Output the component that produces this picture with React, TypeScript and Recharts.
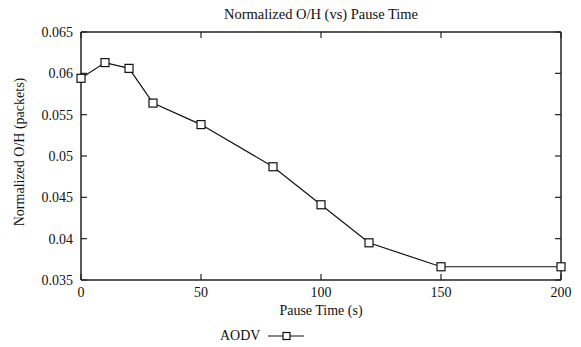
import { LineChart, Line, XAxis, YAxis, Legend } from 'recharts';

const pauseTimes = [0, 10, 20, 30, 50, 80, 100, 120, 150, 200];
const aodvOH = [0.0594, 0.0613, 0.0606, 0.0564, 0.0538, 0.0487, 0.0441, 0.0395, 0.0366, 0.0366];
const xTicks = [0, 50, 100, 150, 200];
const yTicks = [0.035, 0.04, 0.045, 0.05, 0.055, 0.06, 0.065];

const data = pauseTimes.map((t, i) => ({ t, aodv: aodvOH[i] }));

const FONT = '"Liberation Serif", "Times New Roman", Times, serif';
const INK = '#222';
const TICK_IN = 6;

const fmtY = (v: number) => String(+v.toFixed(3));

const BottomTick = (props: any) => {
  const { x, y, payload } = props;
  const axisY = y - 6;
  return (
    <g>
      <line x1={x} y1={axisY} x2={x} y2={axisY - TICK_IN} stroke={INK} strokeWidth={1.2} />
      <text x={x} y={y} dy="0.75em" textAnchor="middle" style={{ fontFamily: FONT }} fontSize={14} fill="#111">
        {payload.value}
      </text>
    </g>
  );
};

const LeftTick = (props: any) => {
  const { x, y, payload } = props;
  const axisX = x + 8;
  return (
    <g>
      <line x1={axisX} y1={y} x2={axisX + TICK_IN} y2={y} stroke={INK} strokeWidth={1.2} />
      <text x={x} y={y} dy="0.35em" textAnchor="end" style={{ fontFamily: FONT }} fontSize={14} fill="#111">
        {fmtY(payload.value)}
      </text>
    </g>
  );
};

const TopTick = (props: any) => {
  const { x, y } = props;
  const axisY = y + 8;
  return <line x1={x} y1={axisY} x2={x} y2={axisY + TICK_IN} stroke={INK} strokeWidth={1.2} />;
};

const RightTick = (props: any) => {
  const { x, y } = props;
  const axisX = x - 8;
  return <line x1={axisX} y1={y} x2={axisX - TICK_IN} y2={y} stroke={INK} strokeWidth={1.2} />;
};

const SquareDot = (props: any) => {
  const { cx, cy, index } = props;
  if (cx == null || cy == null) return null;
  return <rect key={index} x={cx - 4} y={cy - 4} width={8} height={8} fill="#fff" stroke="#111" strokeWidth={1.2} />;
};

// rotated y-axis title, sits a little above the plot's middle like the original
const YTitle = (props: any) => {
  const { viewBox } = props;
  const cy = viewBox.y + viewBox.height / 2 - 4;
  return (
    <text
      x={19}
      y={cy}
      transform={`rotate(-90, 19, ${cy})`}
      textAnchor="middle"
      dominantBaseline="central"
      style={{ fontFamily: FONT }}
      fontSize={14}
      fill="#111"
    >
      Normalized O/H (packets)
    </text>
  );
};

const LegendBox = () => (
  <div style={{ position: 'relative', height: 22, fontFamily: FONT, fontSize: 14, color: '#111' }}>
    <span style={{ position: 'absolute', left: 220, top: 2, lineHeight: '18px' }}>AODV</span>
    <svg width={40} height={22} style={{ position: 'absolute', left: 266, top: 0 }}>
      <line x1={2} y1={11} x2={38} y2={11} stroke="#111" strokeWidth={1.2} />
      <rect x={17} y={7.5} width={7} height={7} fill="#fff" stroke="#111" strokeWidth={1.2} />
    </svg>
  </div>
);

export default function App() {
  return (
    <div style={{ position: 'fixed', left: 0, top: 0, width: 581, height: 347, background: '#fff', fontFamily: FONT }}>
      <div
        style={{
          position: 'absolute',
          top: 5,
          left: 81,
          width: 480,
          textAlign: 'center',
          fontSize: 14.5,
          lineHeight: '18px',
          color: '#111',
        }}
      >
        Normalized O/H (vs) Pause Time
      </div>
      <LineChart width={581} height={347} data={data} margin={{ top: 31, right: 19, bottom: 0, left: 0 }}>
        <XAxis
          dataKey="t"
          type="number"
          domain={[0, 200]}
          ticks={xTicks}
          height={45}
          tickSize={4}
          tickMargin={2}
          tickLine={false}
          tick={<BottomTick />}
          axisLine={{ stroke: INK, strokeWidth: 1.5 }}
          label={{ value: 'Pause Time (s)', position: 'insideBottom', offset: 10, fill: '#111', fontSize: 14, style: { fontFamily: FONT } }}
        />
        <XAxis
          xAxisId="top"
          orientation="top"
          dataKey="t"
          type="number"
          domain={[0, 200]}
          ticks={xTicks}
          height={1}
          tickSize={6}
          tickMargin={2}
          tickLine={false}
          tick={<TopTick />}
          axisLine={{ stroke: INK, strokeWidth: 1.5 }}
        />
        <YAxis
          type="number"
          domain={[0.035, 0.065]}
          ticks={yTicks}
          width={81}
          tickSize={6}
          tickMargin={2}
          tickLine={false}
          tick={<LeftTick />}
          axisLine={{ stroke: INK, strokeWidth: 1.5 }}
          label={{ content: <YTitle /> }}
        />
        <YAxis
          yAxisId="right"
          orientation="right"
          type="number"
          domain={[0.035, 0.065]}
          ticks={yTicks}
          width={1}
          tickSize={6}
          tickMargin={2}
          tickLine={false}
          tick={<RightTick />}
          axisLine={{ stroke: INK, strokeWidth: 1.5 }}
        />
        <Legend
          verticalAlign="bottom"
          content={<LegendBox />}
          wrapperStyle={{ left: 0, width: 581 }}
        />
        {/* invisible twin so the mirrored top/right axes have a series */}
        <Line
          xAxisId="top"
          yAxisId="right"
          dataKey="aodv"
          stroke="none"
          dot={false}
          activeDot={false}
          legendType="none"
          isAnimationActive={false}
        />
        <Line
          dataKey="aodv"
          name="AODV"
          stroke="#111"
          strokeWidth={1.2}
          dot={<SquareDot />}
          activeDot={false}
          isAnimationActive={false}
        />
      </LineChart>
    </div>
  );
}
